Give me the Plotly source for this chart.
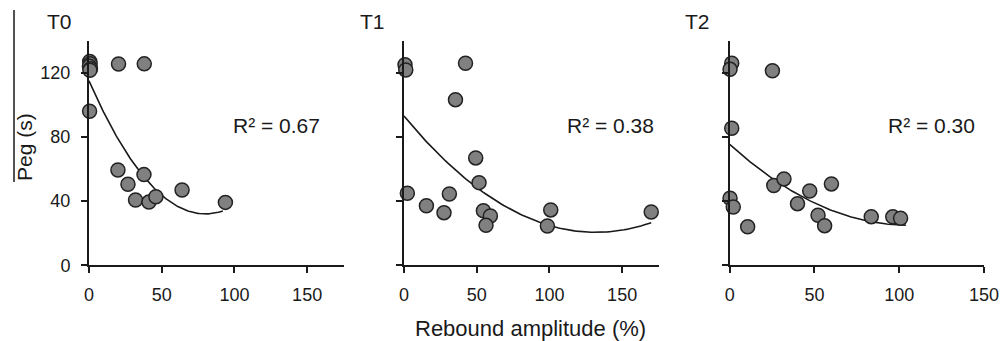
import numpy as np
import plotly.graph_objects as go

# ---- data ----
panel_titles = ["T0", "T1", "T2"]
r2_labels = ["R² = 0.67", "R² = 0.38", "R² = 0.30"]

t0_x = [0.5, 0.8, 0.3, 1.0, 0.6, 0.4, 20.3, 38.0, 19.9, 26.8, 37.8, 32.0, 41.2, 46.0, 64.0, 93.8]
t0_y = [127.0, 125.5, 124.0, 122.5, 121.5, 96.0, 125.4, 125.5, 59.4, 50.5, 56.5, 40.7, 39.4, 42.7, 46.9, 39.2]

t1_x = [0.7, 1.2, 42.3, 35.4, 49.3, 51.6, 2.3, 15.4, 31.2, 27.5, 54.6, 59.4, 56.4, 100.9, 98.6, 170.0]
t1_y = [125.0, 121.7, 125.9, 103.2, 66.9, 51.5, 44.9, 37.1, 44.4, 32.8, 34.0, 30.7, 24.9, 34.5, 24.5, 33.2]

t2_x = [1.2, 0.2, 25.2, 1.2, 0.2, 2.1, 10.6, 26.0, 32.0, 40.0, 47.2, 60.0, 52.1, 56.0, 83.5, 96.2, 100.8]
t2_y = [125.9, 122.1, 121.2, 85.4, 41.8, 36.3, 24.0, 49.7, 53.8, 38.4, 46.3, 50.7, 31.2, 24.7, 30.3, 30.2, 29.3]

# quadratic trend coefficients (a, b, c) and x extent
fit_coef = [[0.01297, -2.075, 115.0], [0.00416, -1.098, 93.0], [0.00457, -0.960, 75.4]]
fit_xmax = [92, 170, 104]

x_ranges = [[0, 175], [0, 175], [0, 150]]
x_ticks = [0, 50, 100, 150]
y_ticks = [0, 40, 80, 120]
y_range = [0, 140]

# ---- layout geometry (pixels) ----
W, H = 1001, 341
x_left_px = [89.0, 404.0, 729.7]
x_right_px = [343.5, 658.5, 984.0]
y_bottom_px, y_top_px = 265.3, 40.6

FONT = "Arial, Liberation Sans, Helvetica, sans-serif"
INK = "#1a1a1a"

fig = go.Figure()
xs = [t0_x, t1_x, t2_x]
ys = [t0_y, t1_y, t2_y]

for i in range(3):
    xa = "x" if i == 0 else f"x{i+1}"
    ya = "y" if i == 0 else f"y{i+1}"
    a, b, c = fit_coef[i]
    fx = np.linspace(0, fit_xmax[i], 120)
    fy = a * fx ** 2 + b * fx + c
    fig.add_trace(go.Scatter(x=fx, y=fy, mode="lines", xaxis=xa, yaxis=ya,
                             line=dict(color=INK, width=1.6), showlegend=False,
                             hoverinfo="skip"))
    fig.add_trace(go.Scatter(x=xs[i], y=ys[i], mode="markers", xaxis=xa, yaxis=ya,
                             marker=dict(size=14, color="#808080",
                                         line=dict(color="#222222", width=1.5)),
                             showlegend=False, cliponaxis=False))

ydom = [(H - y_bottom_px) / H, (H - y_top_px) / H]
layout = dict(
    width=W, height=H,
    margin=dict(l=0, r=0, t=0, b=0),
    paper_bgcolor="white", plot_bgcolor="white",
    font=dict(family=FONT, color=INK, size=18),
)
for i in range(3):
    xk = "xaxis" if i == 0 else f"xaxis{i+1}"
    yk = "yaxis" if i == 0 else f"yaxis{i+1}"
    xa_anchor = "y" if i == 0 else f"y{i+1}"
    ya_anchor = "x" if i == 0 else f"x{i+1}"
    layout[xk] = dict(
        domain=[x_left_px[i] / W, x_right_px[i] / W], anchor=xa_anchor,
        range=x_ranges[i], tickvals=x_ticks, showgrid=False, zeroline=False,
        showline=True, linecolor=INK, linewidth=2, ticks="outside",
        ticklen=6, tickwidth=2, tickcolor=INK, automargin=False,
        ticklabelstandoff=6,
        tickfont=dict(size=18, family=FONT, color=INK),
    )
    layout[yk] = dict(
        domain=ydom, anchor=ya_anchor, range=y_range, tickvals=y_ticks,
        showgrid=False, zeroline=False, showline=True, linecolor=INK,
        linewidth=2, ticks="outside", ticklen=6, tickwidth=2, tickcolor=INK,
        automargin=False, ticklabelstandoff=7,
        showticklabels=(i == 0), tickfont=dict(size=18, family=FONT, color=INK),
    )
fig.update_layout(**layout)

title_px = [59, 372, 697]
r2_px = [276, 610, 931]
annotations = []
for i in range(3):
    annotations.append(dict(text=panel_titles[i], x=title_px[i] / W, y=1 - 22 / H,
                            xref="paper", yref="paper", showarrow=False,
                            font=dict(size=21, family=FONT, color=INK),
                            xanchor="center", yanchor="middle"))
    annotations.append(dict(text=r2_labels[i], x=r2_px[i] / W, y=1 - 125 / H,
                            xref="paper", yref="paper", showarrow=False,
                            font=dict(size=21, family=FONT, color=INK),
                            xanchor="center", yanchor="middle"))
annotations.append(dict(text="Rebound amplitude (%)", x=530 / W, y=1 - 328 / H,
                        xref="paper", yref="paper", showarrow=False,
                        font=dict(size=22, family=FONT, color=INK),
                        xanchor="center", yanchor="middle"))
annotations.append(dict(text="Peg (s)", x=24 / W, y=1 - 147 / H, textangle=-90,
                        xref="paper", yref="paper", showarrow=False,
                        font=dict(size=21, family=FONT, color=INK),
                        xanchor="center", yanchor="middle"))
fig.update_layout(annotations=annotations)

fig.add_shape(type="line", xref="paper", yref="paper",
              x0=14 / W, x1=14 / W, y0=1 - 10 / H, y1=1 - 182 / H,
              line=dict(color=INK, width=1.5))

fig.write_html("out.html",
               config={"displayModeBar": False},
               post_script="document.body.style.margin='0';"
                           "document.body.style.overflow='hidden';")
